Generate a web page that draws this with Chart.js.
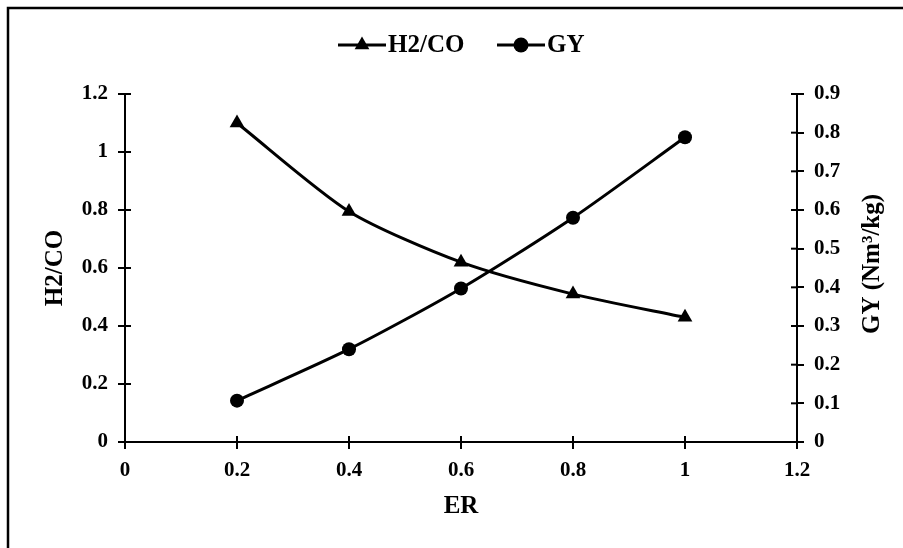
<!DOCTYPE html>
<html>
<head>
<meta charset="utf-8">
<script src="https://cdn.jsdelivr.net/npm/chart.js@4/dist/chart.umd.min.js"></script>
<style>
  html, body { margin: 0; padding: 0; background: #fff; }
  #wrap { width: 903px; height: 548px; position: relative; }
</style>
</head>
<body>
<div id="wrap"><canvas id="erChart"></canvas></div>
<script>
// ER 값별 H2/CO 비율과 가스 수율(GY)
const erValues = [0.2, 0.4, 0.6, 0.8, 1.0];
const h2coValues = [1.10, 0.795, 0.62, 0.51, 0.43];
const gyValues = [0.107, 0.24, 0.397, 0.58, 0.788];

const FONT = "'Liberation Serif', 'Times New Roman', serif";
const INK = '#000';

// 1.0 -> "1", 0.20 -> "0.2"
const fmt = v => String(Number(v.toFixed(2)));

// 축 선을 가로지르는 안쪽 눈금
const innerTicks = {
	id: 'innerTicks',
	afterDraw(chart) {
		const ctx = chart.ctx;
		const area = chart.chartArea;
		const len = 6;
		ctx.save();
		ctx.strokeStyle = INK;
		ctx.lineWidth = 2;
		chart.scales.x.ticks.forEach(t => {
			const px = chart.scales.x.getPixelForValue(t.value);
			ctx.beginPath();
			ctx.moveTo(px, area.bottom);
			ctx.lineTo(px, area.bottom - len);
			ctx.stroke();
		});
		chart.scales.y.ticks.forEach(t => {
			const py = chart.scales.y.getPixelForValue(t.value);
			ctx.beginPath();
			ctx.moveTo(area.left, py);
			ctx.lineTo(area.left + len, py);
			ctx.stroke();
		});
		chart.scales.y1.ticks.forEach(t => {
			const py = chart.scales.y1.getPixelForValue(t.value);
			ctx.beginPath();
			ctx.moveTo(area.right, py);
			ctx.lineTo(area.right - len, py);
			ctx.stroke();
		});
		ctx.restore();
	}
};

// 바깥 테두리(위, 왼쪽)
const frame = {
	id: 'frame',
	beforeDraw(chart) {
		const ctx = chart.ctx;
		ctx.save();
		ctx.strokeStyle = INK;
		ctx.lineWidth = 2.5;
		ctx.beginPath();
		ctx.moveTo(8, chart.height);
		ctx.lineTo(8, 8);
		ctx.lineTo(chart.width, 8);
		ctx.stroke();
		ctx.restore();
	}
};

// 선 + 마커 범례와 양쪽 축 제목
const legendAndTitle = {
	id: 'legendAndTitle',
	afterDraw(chart) {
		const ctx = chart.ctx;
		const area = chart.chartArea;
		const midY = (area.top + area.bottom) / 2;
		ctx.save();
		ctx.fillStyle = INK;
		ctx.strokeStyle = INK;
		ctx.lineWidth = 3;
		ctx.font = 'bold 25px ' + FONT;
		ctx.textBaseline = 'middle';
		ctx.textAlign = 'left';

		const ly = 45;
		const items = [
			{ x: 338, style: 'triangle', r: 8.5, text: 'H2/CO' },
			{ x: 497, style: 'circle', r: 7.5, text: 'GY' }
		];
		items.forEach(it => {
			ctx.beginPath();
			ctx.moveTo(it.x, ly);
			ctx.lineTo(it.x + 48, ly);
			ctx.stroke();
			Chart.helpers.drawPoint(ctx, {
				pointStyle: it.style,
				radius: it.r,
				borderWidth: 0
			}, it.x + 24, ly);
			ctx.fillText(it.text, it.x + 50, ly + 1);
		});

		ctx.textAlign = 'center';
		ctx.font = 'bold 25px ' + FONT;

		// 왼쪽 축 제목
		ctx.save();
		ctx.translate(56, midY);
		ctx.rotate(-Math.PI / 2);
		ctx.fillText('H2/CO', 0, 0);
		ctx.restore();

		// 오른쪽 축 제목 (아래에서 위로 읽힘)
		ctx.save();
		ctx.translate(873, midY - 4);
		ctx.rotate(-Math.PI / 2);
		ctx.fillText('GY (Nm³/kg)', 0, 0);
		ctx.restore();

		ctx.restore();
	}
};

const axisGrid = {
	display: true,
	drawOnChartArea: false,
	drawTicks: true,
	tickLength: 7,
	color: INK,
	lineWidth: 2
};
const axisBorder = { display: true, color: INK, width: 2 };
const tickFont = { family: FONT, size: 21, weight: 'bold' };

new Chart(document.getElementById('erChart'), {
	type: 'line',
	data: {
		datasets: [
			{
				label: 'H2/CO',
				data: erValues.map((x, i) => ({ x: x, y: h2coValues[i] })),
				yAxisID: 'y',
				borderColor: INK,
				backgroundColor: INK,
				borderWidth: 3,
				pointStyle: 'triangle',
				pointRadius: 8.5,
				pointBorderWidth: 0,
				tension: 0.25
			},
			{
				label: 'GY',
				data: erValues.map((x, i) => ({ x: x, y: gyValues[i] })),
				yAxisID: 'y1',
				borderColor: INK,
				backgroundColor: INK,
				borderWidth: 3,
				pointStyle: 'circle',
				pointRadius: 7,
				pointBorderWidth: 0,
				tension: 0.25
			}
		]
	},
	options: {
		responsive: true,
		maintainAspectRatio: false,
		animation: false,
		layout: { padding: { top: 94, left: 0, right: 0, bottom: 0 } },
		plugins: {
			legend: { display: false },
			tooltip: { enabled: false }
		},
		scales: {
			x: {
				type: 'linear',
				min: 0,
				max: 1.2,
				ticks: { stepSize: 0.2, color: INK, font: tickFont, padding: 9, callback: fmt },
				grid: axisGrid,
				border: axisBorder,
				title: {
					display: true,
					text: 'ER',
					color: INK,
					font: { family: FONT, size: 25, weight: 'bold' },
					padding: { top: 0, bottom: 26 }
				},
				afterFit(scale) { scale.height = 106; }
			},
			y: {
				position: 'left',
				min: 0,
				max: 1.2,
				ticks: { stepSize: 0.2, color: INK, font: tickFont, padding: 10, callback: fmt },
				grid: axisGrid,
				border: axisBorder,
				afterFit(scale) { scale.width = 125; }
			},
			y1: {
				position: 'right',
				min: 0,
				max: 0.9,
				ticks: { stepSize: 0.1, color: INK, font: tickFont, padding: 10, callback: fmt },
				grid: axisGrid,
				border: axisBorder,
				afterFit(scale) { scale.width = 106; }
			}
		}
	},
	plugins: [frame, innerTicks, legendAndTitle]
});
</script>
</body>
</html>
